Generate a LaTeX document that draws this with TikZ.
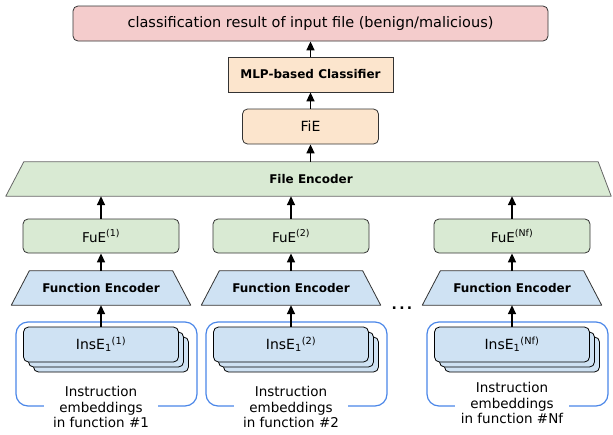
\documentclass[tikz,border=0pt]{standalone}
\usepackage{fontspec}
\setmainfont{DejaVu Sans}
\usetikzlibrary{arrows.meta,shadows,backgrounds}
\definecolor{respink}{HTML}{F4CCCC}
\definecolor{clsorange}{HTML}{FCE5CD}
\definecolor{encgreen}{HTML}{D9EAD3}
\definecolor{insblue}{HTML}{CFE2F3}
\definecolor{grpblue}{HTML}{4A86E8}
\tikzset{
  basebox/.style={draw=black!80, line width=0.8pt, minimum height=35pt, inner sep=2pt},
  resbox/.style={basebox, fill=respink, rounded corners=5pt, minimum width=475pt, font=\fontsize{14.5}{17}\selectfont},
  clsbox/.style={basebox, fill=clsorange, minimum width=165pt, font=\fontsize{12}{14}\selectfont\bfseries},
  fiebox/.style={basebox, fill=clsorange, rounded corners=5pt, minimum width=136pt, font=\fontsize{14}{16}\selectfont},
  fuebox/.style={basebox, fill=encgreen, rounded corners=5pt, minimum width=156pt, minimum height=34pt},
  insbox/.style={basebox, draw=black, fill=insblue, rounded corners=5pt, minimum width=155pt, font=\fontsize{14}{16}\selectfont,
    double copy shadow={shadow xshift=5pt, shadow yshift=-5pt, fill=insblue, draw=black, line width=0.8pt}},
  enctext/.style={minimum height=34pt, inner sep=0pt, font=\fontsize{12}{14}\selectfont\bfseries},
  encline/.style={draw=black!80, line width=0.8pt, line join=round},
  grp/.style={draw=grpblue, line width=1.2pt, rounded corners=12pt, minimum width=181pt, minimum height=84pt},
  grplbl/.style={fill=white, align=center, minimum width=114pt, inner sep=1pt, font=\fontsize{13.5}{15.5}\selectfont},
  arr/.style={-{Triangle[length=9pt,width=8pt]}, line width=1.6pt}
}
\begin{document}
\begin{tikzpicture}[x=1pt,y=-1pt,font=\fontsize{13.5}{16}\selectfont]
  \useasboundingbox (0,0) rectangle (613,434);
  % classifier part
  \node[resbox] (res) at (310.5,23.5) {classification result of input file (benign/malicious)};
  \node[clsbox] (mlp) at (310.5,74.5) {MLP-based Classifier};
  \node[fiebox] (fie) at (310.5,126.5) {FiE};
  \node[enctext, minimum width=574pt] (fenc) at (311,179) {File Encoder};
  % function #1
  \node[fuebox] (fue1) at (101,236) {FuE\textsuperscript{(1)}};
  \node[enctext, minimum width=143pt] (fun1) at (101,288) {Function Encoder};
  \node[grp] (grp1) at (106.5,364) {};
  \node[insbox] (ins1) at (101,344.5) {InsE\textsubscript{1}\textsuperscript{(1)}};
  \node[grplbl] (lbl1) at (101,407) {Instruction\\embeddings\\in function \#1};
  % function #2
  \node[fuebox] (fue2) at (291,236) {FuE\textsuperscript{(2)}};
  \node[enctext, minimum width=143pt] (fun2) at (291,288) {Function Encoder};
  \node[grp] (grp2) at (296.5,364) {};
  \node[insbox] (ins2) at (291,344.5) {InsE\textsubscript{1}\textsuperscript{(2)}};
  \node[grplbl] (lbl2) at (291,407) {Instruction\\embeddings\\in function \#2};
  % function #Nf
  \node[fuebox] (fue3) at (512,236) {FuE\textsuperscript{(Nf)}};
  \node[enctext, minimum width=143pt] (fun3) at (512,288) {Function Encoder};
  \node[grp] (grp3) at (517.5,364) {};
  \node[insbox] (ins3) at (512,344.5) {InsE\textsubscript{1}\textsuperscript{(Nf)}};
  \node[grplbl] (lbl3) at (512,403) {Instruction\\embeddings\\in function \#Nf};
  \node[font=\fontsize{14}{16}\selectfont\bfseries] (dots) at (402,308) {.\,.\,.};
  % encoder outlines
  \begin{scope}[on background layer]
    \draw[encline, draw=black!60, fill=encgreen] ([xshift=-18pt]fenc.south west) -- ([xshift=13pt]fenc.south east)
      -- (fenc.north east) -- (fenc.north west) -- cycle;
    \draw[encline, fill=insblue] ([xshift=-18pt]fun1.south west) -- ([xshift=18pt]fun1.south east)
      -- (fun1.north east) -- (fun1.north west) -- cycle;
    \draw[encline, fill=insblue] ([xshift=-18pt]fun2.south west) -- ([xshift=18pt]fun2.south east)
      -- (fun2.north east) -- (fun2.north west) -- cycle;
    \draw[encline, fill=insblue] ([xshift=-18pt]fun3.south west) -- ([xshift=18pt]fun3.south east)
      -- (fun3.north east) -- (fun3.north west) -- cycle;
  \end{scope}
  % arrows
  \draw[arr] (mlp.north) -- (res.south);
  \draw[arr] (fie.north) -- (mlp.south);
  \draw[arr] (fie.south |- fenc.north) -- (fie.south);
  \draw[arr] (fue1.north) -- (fue1.north |- fenc.south);
  \draw[arr] (fue2.north) -- (fue2.north |- fenc.south);
  \draw[arr] (fue3.north) -- (fue3.north |- fenc.south);
  \draw[arr] (fun1.north) -- (fue1.south);
  \draw[arr] (fun2.north) -- (fue2.south);
  \draw[arr] (fun3.north) -- (fue3.south);
  \draw[arr] (ins1.north) -- (fun1.south);
  \draw[arr] (ins2.north) -- (fun2.south);
  \draw[arr] (ins3.north) -- (fun3.south);
\end{tikzpicture}
\end{document}
